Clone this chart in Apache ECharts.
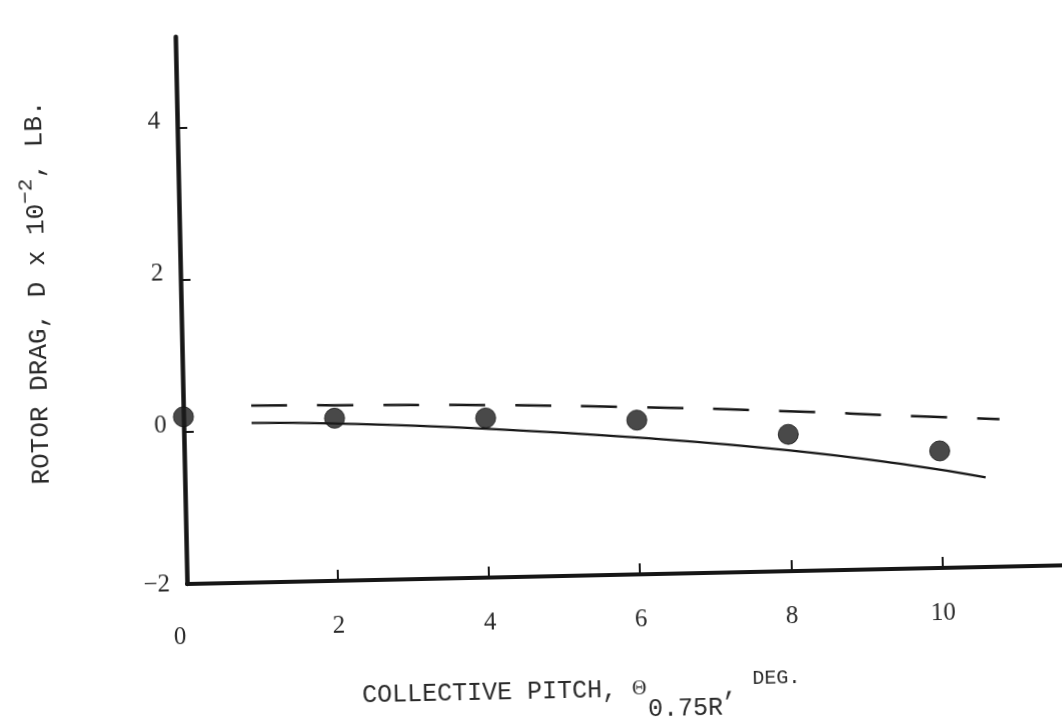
<!DOCTYPE html>
<html>
<head>
<meta charset="utf-8">
<script src="https://cdn.jsdelivr.net/npm/echarts@6/dist/echarts.min.js"></script>
<style>
  html, body { margin: 0; padding: 0; background: #fff; overflow: hidden; width: 1062px; height: 721px; }
  #chart { position: absolute; left: 0; top: 0; width: 1100px; height: 780px;
           transform-origin: 187px 584px; transform: rotate(-1.22deg); }
</style>
</head>
<body>
<div id="chart"></div>
<script>
// ---- data ----
const pitchMeasured = [0, 2, 4, 6, 8, 10];
const dragMeasured = [0.20, 0.14, 0.10, 0.03, -0.20, -0.46];

const solidPitch = [0.9, 2, 4, 6, 8, 9.6, 10.6];
const solidDrag  = [0.10, 0.07, -0.04, -0.20, -0.41, -0.64, -0.82];

const dashedPitch = [0.9, 2, 4, 6, 7.9, 9.75, 10.8];
const dashedDrag  = [0.33, 0.31, 0.27, 0.20, 0.11, 0.00, -0.06];

const xTickValues = [0, 2, 4, 6, 8, 10];
const yTickValues = [-2, 0, 2, 4];

// ---- build ----
const pairs = (xs, ys) => xs.map((x, i) => [x, ys[i]]);
const ink = '#161616';
const textInk = '#2a2a2a';
const mono = '"Liberation Mono", "DejaVu Sans Mono", monospace';
const serif = '"Liberation Serif", "DejaVu Serif", serif';

const chart = echarts.init(document.getElementById('chart'), null, { renderer: 'canvas' });
chart.setOption({
  backgroundColor: '#ffffff',
  animation: false,
  grid: { left: 187, top: 36.8, width: 883.8, height: 547.2, containLabel: false, outerBoundsMode: 'none' },
  xAxis: {
    type: 'value', min: 0, max: 11.7, interval: 2,
    splitLine: { show: false },
    axisLine: { show: true, onZero: false, lineStyle: { color: ink, width: 4 } },
    axisTick: { show: true, inside: true, length: 11, customValues: xTickValues, lineStyle: { color: ink, width: 2 } },
    axisLabel: {
      show: true, margin: 33, customValues: xTickValues,
      color: textInk, fontFamily: serif, fontSize: 25,
      formatter: v => v === 0 ? '{z|0}' : String(v),
      rich: { z: { fontFamily: serif, fontSize: 25, color: textInk, padding: [8, 16, 0, 0] } }
    },
    name: '{t|COLLECTIVE PITCH, }{th|Θ}{sub|0.75R}{t|, }{sup|DEG.}',
    nameLocation: 'middle', nameGap: 97,
    nameTextStyle: {
      color: textInk, padding: [0, 100, 0, 0],
      rich: {
        t: { fontFamily: mono, fontSize: 25, color: textInk, verticalAlign: 'bottom', padding: [0, 0, 20, 0] },
        th: { fontFamily: serif, fontSize: 20, color: textInk, verticalAlign: 'bottom', padding: [0, 1, 23, 0] },
        sub: { fontFamily: mono, fontSize: 25, color: textInk, verticalAlign: 'bottom' },
        sup: { fontFamily: mono, fontSize: 20, color: textInk, verticalAlign: 'bottom', padding: [0, 0, 31, 0] }
      }
    }
  },
  yAxis: {
    type: 'value', min: -2, max: 5.2, interval: 2,
    splitLine: { show: false },
    axisLine: { show: true, onZero: false, lineStyle: { color: ink, width: 4.5 } },
    axisTick: { show: true, inside: true, length: 10, customValues: yTickValues, lineStyle: { color: ink, width: 2 } },
    axisLabel: {
      show: true, margin: 17, customValues: yTickValues,
      color: textInk, fontFamily: serif, fontSize: 25,
      formatter: v => v < 0 ? '{n|−' + Math.abs(v) + '}' : '{r|' + v + '}',
      rich: {
        r: { fontFamily: serif, fontSize: 25, color: textInk, padding: [0, 0, 14, 0] },
        n: { fontFamily: serif, fontSize: 25, color: textInk }
      }
    },
    name: '{t|ROTOR DRAG, D x 10}{sup|−2}{t|, LB.}',
    nameLocation: 'middle', nameGap: 122, nameRotate: 90,
    nameTextStyle: {
      color: textInk, padding: [0, 0, 0, 42],
      rich: {
        t: { fontFamily: mono, fontSize: 26, color: textInk },
        sup: { fontFamily: mono, fontSize: 21, color: textInk, padding: [0, 0, 20, 0] }
      }
    }
  },
  series: [
    {
      name: 'theory (dashed)', type: 'line', data: pairs(dashedPitch, dashedDrag),
      smooth: true, showSymbol: false, symbol: 'none',
      lineStyle: { color: ink, width: 2.5, type: [36, 30] }, z: 2
    },
    {
      name: 'theory (solid)', type: 'line', data: pairs(solidPitch, solidDrag),
      smooth: true, showSymbol: false, symbol: 'none',
      lineStyle: { color: ink, width: 2.2 }, z: 2
    },
    {
      name: 'test', type: 'scatter', data: pairs(pitchMeasured, dragMeasured),
      symbol: 'circle', symbolSize: 20,
      itemStyle: { color: '#1c1c1c', borderColor: '#111', borderWidth: 1 }, z: 5
    }
  ]
});
</script>
</body>
</html>
